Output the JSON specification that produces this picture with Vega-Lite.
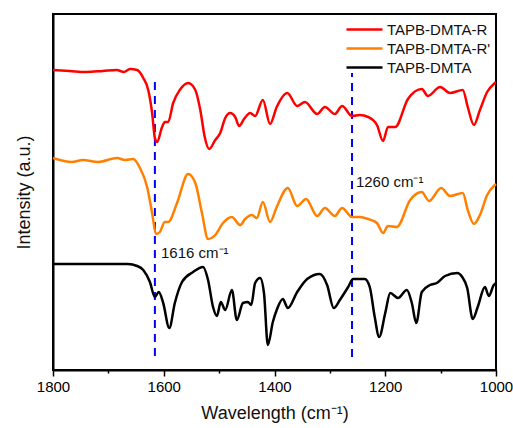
{
  "$schema": "https://vega.github.io/schema/vega-lite/v6.json",
  "autosize": {"type": "none"},
  "padding": {"left": 53, "top": 14, "right": 17, "bottom": 58},
  "width": 443,
  "height": 356,
  "config": {
    "font": "Liberation Sans",
    "view": {"stroke": "black", "strokeWidth": 2},
    "axis": {"grid": false, "domainColor": "black", "domainWidth": 2, "tickColor": "black", "tickWidth": 1.5, "labelColor": "black", "titleColor": "#111", "titleFontWeight": "normal"}
  },
  "datasets": {
    "spectra": [
      {"s":"TAPB-DMTA-R","w":1800,"v":300},{"s":"TAPB-DMTA-R","w":1770,"v":299},{"s":"TAPB-DMTA-R","w":1740,"v":298},{"s":"TAPB-DMTA-R","w":1710,"v":299},{"s":"TAPB-DMTA-R","w":1685,"v":300},{"s":"TAPB-DMTA-R","w":1672,"v":298},{"s":"TAPB-DMTA-R","w":1661,"v":301},{"s":"TAPB-DMTA-R","w":1648,"v":300},{"s":"TAPB-DMTA-R","w":1637,"v":292},{"s":"TAPB-DMTA-R","w":1628,"v":280},{"s":"TAPB-DMTA-R","w":1621,"v":257},{"s":"TAPB-DMTA-R","w":1616,"v":232},{"s":"TAPB-DMTA-R","w":1612,"v":228},{"s":"TAPB-DMTA-R","w":1603,"v":243},{"s":"TAPB-DMTA-R","w":1598,"v":248},{"s":"TAPB-DMTA-R","w":1592,"v":248},{"s":"TAPB-DMTA-R","w":1583,"v":267},{"s":"TAPB-DMTA-R","w":1571,"v":280},{"s":"TAPB-DMTA-R","w":1556,"v":287},{"s":"TAPB-DMTA-R","w":1543,"v":280},{"s":"TAPB-DMTA-R","w":1534,"v":260},{"s":"TAPB-DMTA-R","w":1526,"v":233},{"s":"TAPB-DMTA-R","w":1518,"v":221},{"s":"TAPB-DMTA-R","w":1507,"v":230},{"s":"TAPB-DMTA-R","w":1498,"v":237},{"s":"TAPB-DMTA-R","w":1489,"v":252},{"s":"TAPB-DMTA-R","w":1480,"v":257},{"s":"TAPB-DMTA-R","w":1471,"v":253},{"s":"TAPB-DMTA-R","w":1464,"v":244},{"s":"TAPB-DMTA-R","w":1455,"v":251},{"s":"TAPB-DMTA-R","w":1444,"v":257},{"s":"TAPB-DMTA-R","w":1435,"v":254},{"s":"TAPB-DMTA-R","w":1421,"v":270},{"s":"TAPB-DMTA-R","w":1408,"v":246},{"s":"TAPB-DMTA-R","w":1396,"v":263},{"s":"TAPB-DMTA-R","w":1377,"v":277},{"s":"TAPB-DMTA-R","w":1359,"v":264},{"s":"TAPB-DMTA-R","w":1345,"v":268},{"s":"TAPB-DMTA-R","w":1323,"v":256},{"s":"TAPB-DMTA-R","w":1309,"v":263},{"s":"TAPB-DMTA-R","w":1291,"v":256},{"s":"TAPB-DMTA-R","w":1278,"v":264},{"s":"TAPB-DMTA-R","w":1260,"v":254},{"s":"TAPB-DMTA-R","w":1246,"v":255},{"s":"TAPB-DMTA-R","w":1231,"v":253},{"s":"TAPB-DMTA-R","w":1215,"v":245},{"s":"TAPB-DMTA-R","w":1204,"v":229},{"s":"TAPB-DMTA-R","w":1195,"v":243},{"s":"TAPB-DMTA-R","w":1182,"v":243},{"s":"TAPB-DMTA-R","w":1159,"v":271},{"s":"TAPB-DMTA-R","w":1134,"v":281},{"s":"TAPB-DMTA-R","w":1123,"v":274},{"s":"TAPB-DMTA-R","w":1101,"v":283},{"s":"TAPB-DMTA-R","w":1083,"v":277},{"s":"TAPB-DMTA-R","w":1060,"v":280},{"s":"TAPB-DMTA-R","w":1051,"v":263},{"s":"TAPB-DMTA-R","w":1040,"v":245},{"s":"TAPB-DMTA-R","w":1029,"v":260},{"s":"TAPB-DMTA-R","w":1016,"v":278},{"s":"TAPB-DMTA-R","w":1002,"v":287},{"s":"TAPB-DMTA-R","w":1000,"v":288},
      {"s":"TAPB-DMTA-R'","w":1800,"v":212},{"s":"TAPB-DMTA-R'","w":1766,"v":208},{"s":"TAPB-DMTA-R'","w":1746,"v":210},{"s":"TAPB-DMTA-R'","w":1719,"v":208},{"s":"TAPB-DMTA-R'","w":1684,"v":212},{"s":"TAPB-DMTA-R'","w":1670,"v":210},{"s":"TAPB-DMTA-R'","w":1655,"v":211},{"s":"TAPB-DMTA-R'","w":1643,"v":202},{"s":"TAPB-DMTA-R'","w":1630,"v":183},{"s":"TAPB-DMTA-R'","w":1621,"v":157},{"s":"TAPB-DMTA-R'","w":1614,"v":136},{"s":"TAPB-DMTA-R'","w":1607,"v":138},{"s":"TAPB-DMTA-R'","w":1598,"v":148},{"s":"TAPB-DMTA-R'","w":1592,"v":148},{"s":"TAPB-DMTA-R'","w":1576,"v":167},{"s":"TAPB-DMTA-R'","w":1556,"v":196},{"s":"TAPB-DMTA-R'","w":1543,"v":187},{"s":"TAPB-DMTA-R'","w":1531,"v":157},{"s":"TAPB-DMTA-R'","w":1520,"v":131},{"s":"TAPB-DMTA-R'","w":1507,"v":135},{"s":"TAPB-DMTA-R'","w":1493,"v":147},{"s":"TAPB-DMTA-R'","w":1477,"v":153},{"s":"TAPB-DMTA-R'","w":1462,"v":145},{"s":"TAPB-DMTA-R'","w":1453,"v":151},{"s":"TAPB-DMTA-R'","w":1441,"v":155},{"s":"TAPB-DMTA-R'","w":1432,"v":152},{"s":"TAPB-DMTA-R'","w":1421,"v":168},{"s":"TAPB-DMTA-R'","w":1408,"v":148},{"s":"TAPB-DMTA-R'","w":1396,"v":163},{"s":"TAPB-DMTA-R'","w":1376,"v":182},{"s":"TAPB-DMTA-R'","w":1359,"v":164},{"s":"TAPB-DMTA-R'","w":1343,"v":171},{"s":"TAPB-DMTA-R'","w":1323,"v":154},{"s":"TAPB-DMTA-R'","w":1309,"v":162},{"s":"TAPB-DMTA-R'","w":1291,"v":154},{"s":"TAPB-DMTA-R'","w":1278,"v":162},{"s":"TAPB-DMTA-R'","w":1260,"v":153},{"s":"TAPB-DMTA-R'","w":1246,"v":153},{"s":"TAPB-DMTA-R'","w":1231,"v":151},{"s":"TAPB-DMTA-R'","w":1215,"v":147},{"s":"TAPB-DMTA-R'","w":1204,"v":137},{"s":"TAPB-DMTA-R'","w":1195,"v":144},{"s":"TAPB-DMTA-R'","w":1179,"v":143},{"s":"TAPB-DMTA-R'","w":1155,"v":170},{"s":"TAPB-DMTA-R'","w":1134,"v":178},{"s":"TAPB-DMTA-R'","w":1121,"v":169},{"s":"TAPB-DMTA-R'","w":1099,"v":182},{"s":"TAPB-DMTA-R'","w":1083,"v":174},{"s":"TAPB-DMTA-R'","w":1060,"v":177},{"s":"TAPB-DMTA-R'","w":1051,"v":160},{"s":"TAPB-DMTA-R'","w":1040,"v":146},{"s":"TAPB-DMTA-R'","w":1029,"v":155},{"s":"TAPB-DMTA-R'","w":1016,"v":175},{"s":"TAPB-DMTA-R'","w":1002,"v":185},{"s":"TAPB-DMTA-R'","w":1000,"v":186},
      {"s":"TAPB-DMTA","w":1800,"v":106},{"s":"TAPB-DMTA","w":1733,"v":106},{"s":"TAPB-DMTA","w":1665,"v":106},{"s":"TAPB-DMTA","w":1648,"v":104},{"s":"TAPB-DMTA","w":1637,"v":100},{"s":"TAPB-DMTA","w":1625,"v":88},{"s":"TAPB-DMTA","w":1616,"v":73},{"s":"TAPB-DMTA","w":1609,"v":78},{"s":"TAPB-DMTA","w":1601,"v":67},{"s":"TAPB-DMTA","w":1590,"v":42},{"s":"TAPB-DMTA","w":1580,"v":67},{"s":"TAPB-DMTA","w":1567,"v":88},{"s":"TAPB-DMTA","w":1547,"v":98},{"s":"TAPB-DMTA","w":1529,"v":103},{"s":"TAPB-DMTA","w":1520,"v":90},{"s":"TAPB-DMTA","w":1511,"v":63},{"s":"TAPB-DMTA","w":1504,"v":54},{"s":"TAPB-DMTA","w":1497,"v":68},{"s":"TAPB-DMTA","w":1489,"v":60},{"s":"TAPB-DMTA","w":1477,"v":80},{"s":"TAPB-DMTA","w":1468,"v":50},{"s":"TAPB-DMTA","w":1457,"v":67},{"s":"TAPB-DMTA","w":1448,"v":68},{"s":"TAPB-DMTA","w":1442,"v":65},{"s":"TAPB-DMTA","w":1435,"v":87},{"s":"TAPB-DMTA","w":1426,"v":92},{"s":"TAPB-DMTA","w":1419,"v":77},{"s":"TAPB-DMTA","w":1412,"v":25},{"s":"TAPB-DMTA","w":1403,"v":48},{"s":"TAPB-DMTA","w":1396,"v":60},{"s":"TAPB-DMTA","w":1385,"v":71},{"s":"TAPB-DMTA","w":1376,"v":62},{"s":"TAPB-DMTA","w":1359,"v":78},{"s":"TAPB-DMTA","w":1341,"v":91},{"s":"TAPB-DMTA","w":1318,"v":96},{"s":"TAPB-DMTA","w":1305,"v":85},{"s":"TAPB-DMTA","w":1293,"v":62},{"s":"TAPB-DMTA","w":1282,"v":70},{"s":"TAPB-DMTA","w":1267,"v":83},{"s":"TAPB-DMTA","w":1258,"v":91},{"s":"TAPB-DMTA","w":1237,"v":91},{"s":"TAPB-DMTA","w":1228,"v":83},{"s":"TAPB-DMTA","w":1219,"v":53},{"s":"TAPB-DMTA","w":1211,"v":33},{"s":"TAPB-DMTA","w":1200,"v":57},{"s":"TAPB-DMTA","w":1191,"v":77},{"s":"TAPB-DMTA","w":1177,"v":72},{"s":"TAPB-DMTA","w":1161,"v":80},{"s":"TAPB-DMTA","w":1152,"v":67},{"s":"TAPB-DMTA","w":1144,"v":47},{"s":"TAPB-DMTA","w":1134,"v":78},{"s":"TAPB-DMTA","w":1119,"v":85},{"s":"TAPB-DMTA","w":1107,"v":87},{"s":"TAPB-DMTA","w":1092,"v":94},{"s":"TAPB-DMTA","w":1070,"v":97},{"s":"TAPB-DMTA","w":1061,"v":93},{"s":"TAPB-DMTA","w":1052,"v":82},{"s":"TAPB-DMTA","w":1042,"v":51},{"s":"TAPB-DMTA","w":1033,"v":63},{"s":"TAPB-DMTA","w":1020,"v":83},{"s":"TAPB-DMTA","w":1013,"v":74},{"s":"TAPB-DMTA","w":1004,"v":85},{"s":"TAPB-DMTA","w":1000,"v":87}
    ],
    "marks": [
      {"w":1616,"y1":14,"y2":294},
      {"w":1260,"y1":13,"y2":297}
    ],
    "labels": [
      {"w":1605,"v":117,"t":"1616 cm⁻¹"},
      {"w":1253,"v":188,"t":"1260 cm⁻¹"}
    ]
  },
  "encoding": {
    "x": {
      "field": "w", "type": "quantitative",
      "scale": {"domain": [1000, 1800], "reverse": true, "nice": false, "zero": false},
      "axis": {
        "title": "Wavelength (cm⁻¹)",
        "titleFontSize": 18, "titlePadding": 10,
        "values": [1000, 1100, 1200, 1300, 1400, 1500, 1600, 1700, 1800],
        "format": "d",
        "labelExpr": "datum.value % 200 === 0 ? datum.label : ''",
        "labelFontSize": 15, "labelPadding": 3, "labelFlush": false, "labelOverlap": false,
        "tickSize": {"condition": {"test": "datum.value % 200 === 0", "value": 6}, "value": 3}
      }
    },
    "y": {
      "field": "v", "type": "quantitative",
      "scale": {"domain": [0, 356], "nice": false, "zero": false},
      "axis": {"title": "Intensity (a.u.)", "titleFontSize": 18, "ticks": false, "labels": false, "titlePadding": 20}
    }
  },
  "layer": [
    {
      "data": {"name": "marks"},
      "mark": {"type": "rule", "color": "#0000FF", "strokeWidth": 2, "strokeDash": [8, 6]},
      "encoding": {"y": {"field": "y1", "type": "quantitative"}, "y2": {"field": "y2"}}
    },
    {
      "data": {"name": "spectra"},
      "mark": {"type": "line", "interpolate": "monotone", "strokeWidth": 2.5},
      "encoding": {
        "color": {
          "field": "s", "type": "nominal",
          "scale": {"domain": ["TAPB-DMTA-R", "TAPB-DMTA-R'", "TAPB-DMTA"], "range": ["#FF0000", "#FF8000", "#000000"]},
          "legend": {
            "title": null, "orient": "none", "legendX": 304, "legendY": 8,
            "padding": 0, "symbolType": "M-3,0H3", "symbolSize": 144, "symbolStrokeWidth": 2.5,
            "labelOffset": 15, "labelFontSize": 15, "labelColor": "#111", "rowPadding": 3, "labelLimit": 300
          }
        }
      }
    },
    {
      "data": {"name": "labels"},
      "mark": {"type": "text", "align": "left", "baseline": "middle", "fontSize": 15, "color": "#111"},
      "encoding": {"text": {"field": "t"}}
    }
  ]
}
